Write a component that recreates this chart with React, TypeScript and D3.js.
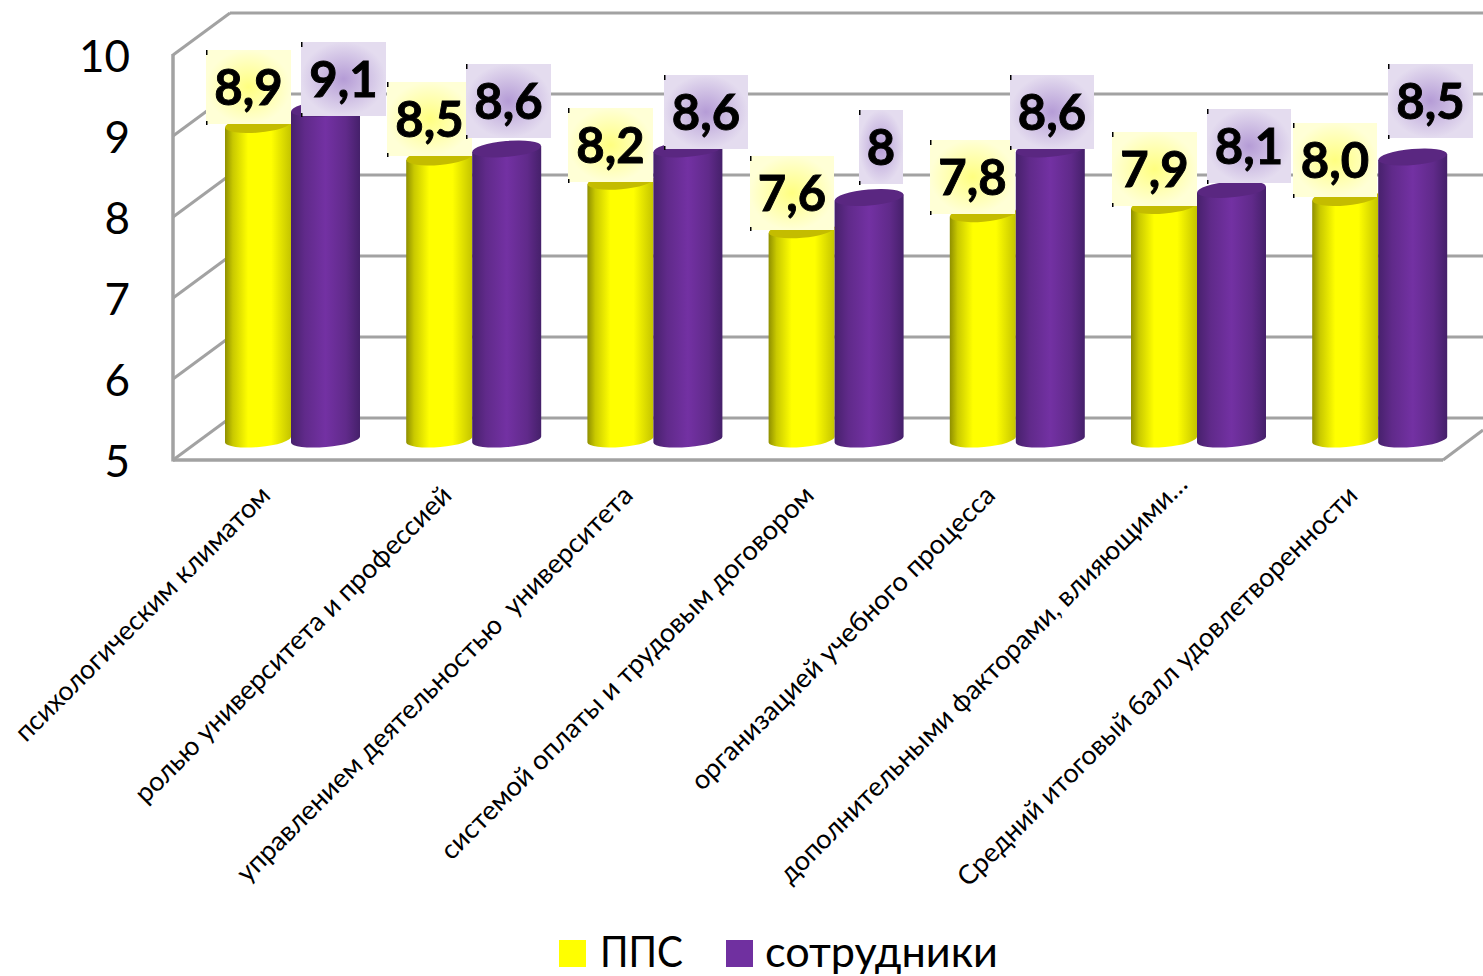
import React from "react";
import * as d3 from "d3";

const categories = [
  "психологическим климатом",
  "ролью университета и профессией",
  "управлением деятельностью  университета",
  "системой оплаты и трудовым договором",
  "организацией учебного процесса",
  "дополнительными факторами, влияющими…",
  "Средний итоговый балл удовлетворенности",
];
const seriesNames = ["ППС", "сотрудники"];
const ppsValues = [8.9, 8.5, 8.2, 7.6, 7.8, 7.9, 8.0];
const staffValues = [9.1, 8.6, 8.6, 8.0, 8.6, 8.1, 8.5];
const ppsLabels = ["8,9", "8,5", "8,2", "7,6", "7,8", "7,9", "8,0"];
const staffLabels = ["9,1", "8,6", "8,6", "8", "8,6", "8,1", "8,5"];
const yTicks = [5, 6, 7, 8, 9, 10];

// hand-placed label boxes of the original: [left, top, width] in pixels
const ppsBoxes = [[206, 50, 85], [387, 82, 85], [568, 108, 85], [750, 156, 84], [930, 140, 85], [1112, 132, 85], [1293, 123, 84]];
const staffBoxes = [[301, 42, 85], [466, 64, 85], [664, 75, 84], [859, 110, 44], [1010, 75, 84], [1207, 109, 84], [1388, 64, 85]];
// along-baseline nudge of the category labels, in pixels
const categoryNudge = [0, 0, 0, 0, 0, 11, 0];
// length of each category label along its baseline, in pixels
const categoryLength = [348, 435, 547, 515, 417, 564, 553];

const W = 1483, H = 976;
const FONT = "Lato, Carlito, Calibri, 'Open Sans', sans-serif";
const GRID = "#a2a2a2";
const DX = 57, DY = -42;
const TILT = -5;

const yFront = d3.scaleLinear().domain([5, 10]).range([460, 55]);
const yBar = d3.scaleLinear().domain([5, 10]).range([440.5, 35.5]);
const xCat = d3.scaleBand<string>().domain(categories).range([225, 225 + 181.2 * 7]);
const xSer = d3.scaleBand<string>().domain(seriesNames).range([0, 132]);

function Bar({ x, w, top, grad, cap }: { x: number; w: number; top: number; grad: string; cap: string }) {
  const rx = w / 2;
  const ry = 8;
  const dy = 3;
  const base = yBar(5) - 1;
  const body = `M${x},${top + dy} L${x},${base + dy} A${rx + 0.1},7.5 ${TILT} 0 0 ${x + w},${base - dy} L${x + w},${top - dy} Z`;
  return (
    <g>
      <path d={body} fill={`url(#${grad})`} />
      <ellipse cx={x + w / 2} cy={top} rx={rx} ry={ry} transform={`rotate(${TILT} ${x + w / 2} ${top})`} fill={cap} />
    </g>
  );
}

function LabelBox({ box, text, grad }: { box: number[]; text: string; grad: string }) {
  const [l, t, w] = box;
  const h = 74;
  return (
    <g>
      <rect x={l} y={t} width={w} height={h} fill={`url(#${grad})`} />
      <rect x={l} y={t} width={1.5} height={5} fill="#000" />
      <rect x={l} y={t + h - 3} width={1.5} height={4} fill="#000" />
      <text x={l + w / 2} y={t + h / 2 + 18} textAnchor="middle" fontFamily={FONT} fontWeight={700} fontSize={49} fill="#000" stroke="#000" strokeWidth={0.9}>
        {text}
      </text>
    </g>
  );
}

export default function App() {
  const bw = xSer.bandwidth();
  return (
    <svg width={W} height={H} viewBox={`0 0 ${W} ${H}`} style={{ position: "absolute", left: 0, top: 0, background: "#fff" }}>
      <defs>
        <linearGradient id="yel" x1="0" x2="1" y1="0" y2="0">
          <stop offset="0" stopColor="#8f8f00" />
          <stop offset="0.12" stopColor="#c9c900" />
          <stop offset="0.35" stopColor="#ffff00" />
          <stop offset="0.7" stopColor="#ffff00" />
          <stop offset="1" stopColor="#c4c400" />
        </linearGradient>
        <linearGradient id="pur" x1="0" x2="1" y1="0" y2="0">
          <stop offset="0" stopColor="#47216c" />
          <stop offset="0.2" stopColor="#602a8a" />
          <stop offset="0.5" stopColor="#7331a3" />
          <stop offset="0.8" stopColor="#602a8a" />
          <stop offset="1" stopColor="#45206a" />
        </linearGradient>
        <radialGradient id="lblY">
          <stop offset="0" stopColor="#ffff80" />
          <stop offset="1" stopColor="#ffffd6" />
        </radialGradient>
        <radialGradient id="lblP">
          <stop offset="0" stopColor="#b59cd6" />
          <stop offset="1" stopColor="#e4dcef" />
        </radialGradient>
      </defs>

      {yTicks.map((t) => {
        const y = yFront(t);
        return (
          <g key={t} stroke={GRID} strokeWidth={3} fill="none">
            <line x1={173} y1={y} x2={173 + DX} y2={y + DY} />
            <line x1={173 + DX} y1={y + DY} x2={W} y2={y + DY} />
          </g>
        );
      })}
      <line x1={173} y1={yFront(10) - 1} x2={173} y2={yFront(5) + 1.5} stroke={GRID} strokeWidth={3.5} />
      <line x1={173} y1={yFront(5)} x2={1443} y2={yFront(5)} stroke={GRID} strokeWidth={3.5} />
      <line x1={1443} y1={yFront(5)} x2={1483} y2={yFront(5) - 30} stroke={GRID} strokeWidth={3} />

      {yTicks.map((t) => (
        <text key={t} x={130} y={yFront(t) + 17} textAnchor="end" fontFamily={FONT} fontSize={44} fill="#000">
          {t}
        </text>
      ))}

      {categories.map((c, i) => {
        const x0 = xCat(c)!;
        const xY = x0 + xSer(seriesNames[0])!;
        const xP = x0 + xSer(seriesNames[1])!;
        return (
          <g key={c}>
            <Bar x={xY} w={bw} top={yBar(ppsValues[i])} grad="yel" cap="#c4bc00" />
            <Bar x={xP} w={bw + 3} top={yBar(staffValues[i])} grad="pur" cap="#5a2781" />
          </g>
        );
      })}

      {categories.map((c, i) => (
        <g key={c}>
          <LabelBox box={ppsBoxes[i]} text={ppsLabels[i]} grad="lblY" />
          <LabelBox box={staffBoxes[i]} text={staffLabels[i]} grad="lblP" />
        </g>
      ))}

      {categories.map((c, i) => {
        const ax = xCat(c)! + 47 + categoryNudge[i];
        const ay = 497 - categoryNudge[i];
        return (
          <text
            key={c}
            transform={`translate(${ax},${ay}) rotate(-45)`}
            textAnchor="end"
            fontFamily={FONT}
            fontSize={26.8}
            fill="#000"
            textLength={categoryLength[i]}
            lengthAdjust="spacingAndGlyphs"
            style={{ whiteSpace: "pre" }}
          >
            {c}
          </text>
        );
      })}

      <rect x={559} y={940} width={27} height={27} fill="#ffff00" />
      <text x={600} y={967} fontFamily={FONT} fontSize={43} fill="#000" textLength={83} lengthAdjust="spacingAndGlyphs">{seriesNames[0]}</text>
      <rect x={726} y={940} width={27} height={27} fill="#7030a0" />
      <text x={765} y={967} fontFamily={FONT} fontSize={43} fill="#000" textLength={233} lengthAdjust="spacingAndGlyphs">{seriesNames[1]}</text>
    </svg>
  );
}
